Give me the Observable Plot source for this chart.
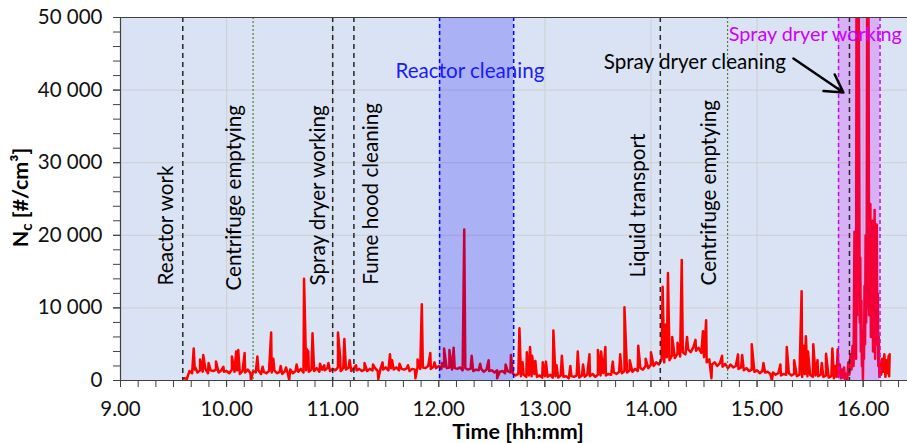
<!DOCTYPE html>
<html><head><meta charset="utf-8">
<script src="https://cdn.jsdelivr.net/npm/d3@7"></script>
<script src="https://cdn.jsdelivr.net/npm/@observablehq/plot@0.6"></script>
<style>body{margin:0;background:#fff}#chart{width:907px;height:443px}</style>
</head><body><div id="chart"></div>
<script>
// ---- data (time in decimal hours, Nc in #/cm3) ----
const sampleStartHour = 9.6;
const sampleStepHour = 0.025;
const baselineNc = [
  300,200,1300,1000,1500,1100,1400,1200,1600,1000,
  1400,1300,1500,1100,1400,1200,1300,1000,1500,1200,
  1400,900,1300,1100,1500,1000,1300,1100,1400,900,
  1200,1000,1300,1100,1400,1000,1200,900,1300,1100,
  1500,1000,1300,1200,1600,1100,1400,1200,1500,1300,
  1700,1200,1500,1400,1700,1300,1600,1400,1800,1300,
  1700,1500,1800,1300,1700,1400,1600,1300,1500,1300,
  1600,1400,1700,1300,1600,1500,1800,1400,1700,1500,
  1800,1400,1600,1500,1700,1300,1600,1500,1900,1600,
  1800,1700,2000,1600,1900,1700,2000,1600,1900,1700,
  1800,1500,1700,1600,1800,1400,1700,1500,1600,1300,
  1500,1400,1600,1200,1500,1300,1400,1100,1400,1200,
  1300,1000,1300,1100,900,700,900,600,800,500,
  700,600,900,500,700,400,600,500,800,400,
  600,400,700,500,600,300,600,500,700,400,
  700,500,800,600,900,500,800,700,1000,700,
  900,800,1100,900,1200,1000,1300,1100,1400,1200,
  1600,1300,1700,1500,2000,1700,2200,2000,2500,2200,
  2900,2500,3200,2800,3500,3100,3700,3300,3900,3600,
  4300,3900,4600,4100,4500,3800,3200,2500,2900,2200,
  2500,2000,2400,1900,2300,1700,2200,1800,2000,1600,
  1800,1400,1700,1300,1500,1200,1400,1000,1300,1100,
  1200,900,1100,800,1000,700,900,800,1000,700,
  900,600,800,500,900,600,800,500,700,600,
  800,500,700,400,600,300,500
];
const spikes = [
  [9.69,4400],[9.705,1800],[9.75,2900],[9.78,3500],[9.83,2400],[9.90,2600],[9.97,1900],
  [10.05,3300],[10.09,4000],[10.11,4200],[10.17,3800],[10.23,0],[10.29,3300],[10.34,1900],
  [10.42,6600],[10.44,3000],[10.51,2000],[10.56,1800],[10.59,100],[10.66,2200],[10.73,14000],
  [10.75,4400],[10.77,4000],[10.81,6500],[10.88,2300],[10.92,2100],[10.96,2400],
  [11.05,6600],[11.07,3300],[11.11,5700],[11.16,2800],[11.22,2100],[11.30,2400],[11.38,2200],
  [11.43,200],[11.47,2500],[11.54,3600],[11.56,2800],[11.63,2300],[11.71,2100],[11.78,300],
  [11.80,2900],[11.84,10500],[11.92,3800],[11.96,2500],
  [12.03,2400],[12.05,4400],[12.10,4200],[12.14,4500],[12.24,20800],[12.31,3400],[12.39,2300],
  [12.47,2800],[12.55,300],[12.63,2200],[12.68,3500],
  [12.76,7200],[12.79,2500],[12.83,3900],[12.86,4600],[12.88,3400],[12.91,2700],[12.98,2500],
  [13.01,2600],[13.08,6900],[13.11,2100],[13.16,3400],[13.24,2000],[13.31,4000],[13.36,2200],
  [13.42,3600],[13.50,4200],[13.53,4000],[13.57,4600],[13.64,2600],[13.71,3600],[13.75,10100],
  [13.80,2800],[13.88,4800],[13.95,3000],[14.00,3900],
  [14.11,12900],[14.13,5000],[14.14,7700],[14.16,14800],[14.20,6000],[14.25,5200],[14.29,16600],
  [14.34,6000],[14.42,5600],[14.49,6800],[14.52,8300],[14.57,300],[14.67,3400],[14.82,3600],
  [14.86,3500],[14.95,5000],[15.06,2400],[15.14,0],[15.22,2200],[15.28,4600],[15.35,2800],
  [15.42,12300],[15.44,4800],[15.46,6100],[15.48,4000],[15.53,5000],[15.57,2800],[15.61,2400],
  [15.65,3700],[15.71,4400],[15.74,2000]
];
const sprayBurst = [
  [15.76,4300],[15.77,600],[15.78,2200],[15.79,300],[15.80,1500],[15.81,400],[15.82,1800],
  [15.83,200],[15.84,900],[15.85,100],[15.86,2500],[15.87,800],[15.88,3600],[15.89,1500],
  [15.90,4800],[15.91,2000],[15.918,20500],[15.923,5000],[15.928,16800],[15.933,3000],
  [15.938,62000],[15.943,9000],[15.948,60000],[15.953,12000],[15.958,58000],[15.963,30000],
  [15.968,8000],[15.973,16900],[15.978,4000],[15.983,11000],[15.988,2000],[15.993,6000],
  [15.998,0],[16.003,6800],[16.008,3000],[16.013,13000],[16.018,5000],[16.023,20000],
  [16.028,8000],[16.033,13000],[16.038,62000],[16.043,10000],[16.050,58000],[16.056,9000],
  [16.062,16000],[16.068,24300],[16.073,6000],[16.078,18000],[16.083,9000],[16.088,22000],
  [16.093,4000],[16.098,20000],[16.103,7000],[16.108,23500],[16.113,3000],[16.118,15000],
  [16.123,6000],[16.128,21500],[16.133,5000],[16.138,12000],[16.143,2000],[16.148,6000],
  [16.153,500],[16.16,2500],[16.17,800],[16.18,3000],[16.19,1200],[16.20,3600],[16.21,500],
  [16.22,2800],[16.23,1000],[16.24,3400],[16.245,600],[16.25,3600]
];
const xTickHours = [9,10,11,12,13,14,15,16];
const yTickValues = [0,10000,20000,30000,40000,50000];
const eventLabels = ["Reactor work","Centrifuge emptying","Spray dryer working","Fume hood cleaning","Liquid transport","Centrifuge emptying"];
const eventTimes = [9.587,10.25,11.0,11.2,14.088,14.722];
const eventKinds = ["black","green","black","black","black","green"];
const eventLabelTimes = [9.431,10.074,10.869,11.369,13.885,14.551];
const eventLabelNc = [13100,12400,13100,13200,14200,13100];
const reactorCleaning = [12.008,12.706];
const sprayDryerWorking = [15.768,16.159];
const sprayDryerCleaningTime = 15.871;

// ---- build tables ----
const series = [];
baselineNc.forEach((v,i) => series.push({t: sampleStartHour + i*sampleStepHour, v}));
spikes.forEach(([t,v]) => series.push({t, v}));
sprayBurst.forEach(([t,v]) => series.push({t, v}));
series.sort((a,b) => a.t - b.t);

const events = eventLabels.map((label,i) => ({label, time: eventTimes[i], kind: eventKinds[i], lt: eventLabelTimes[i], lv: eventLabelNc[i]}));
const periods = [
  {start: reactorCleaning[0], end: reactorCleaning[1], color: "#0000ff"},
  {start: sprayDryerWorking[0], end: sprayDryerWorking[1], color: "#cc00ff"}
];
const xMinor = d3.range(0, 45).map(i => 9 + i/6);
const yMinor = d3.range(0, 51000, 2000);
const spaceFmt = d3.formatLocale({thousands: " ", grouping: [3], decimal: ".", currency: ["", ""]}).format(",");
const FONT = "Lato, 'Open Sans', sans-serif";
const axisCol = "#404040";
const LBL = 20.6;
const TCK = 20.5;

const plot = Plot.plot({
  width: 907, height: 443,
  marginLeft: 120, marginRight: 0, marginTop: 17, marginBottom: 63,
  x: {domain: [9, 16.418]},
  y: {domain: [0, 50000]},
  style: {fontFamily: FONT, fontSize: "20px", color: "#111", background: "white", overflow: "visible"},
  marks: [
    Plot.frame({fill: "#dae3f3", stroke: null}),
    Plot.gridY(yTickValues.slice(1, -1), {stroke: "#cfd2d6", strokeOpacity: 1, strokeWidth: 1.2}),
    Plot.gridX(xTickHours.slice(1), {stroke: "#cfd2d6", strokeOpacity: 1, strokeWidth: 1.2}),
    Plot.line(series, {x: "t", y: "v", stroke: "#ff0000", strokeWidth: 2.5, strokeLinejoin: "round", clip: true}),
    Plot.rect(periods, {x1: "start", x2: "end", y1: 0, y2: 50000, fill: "color", fillOpacity: 0.22}),
    Plot.ruleX(events.filter(d => d.kind === "black"), {x: "time", stroke: "#262626", strokeWidth: 1.5, strokeDasharray: "5,4"}),
    Plot.ruleX(events.filter(d => d.kind === "green"), {x: "time", stroke: "#548235", strokeWidth: 1.2, strokeDasharray: "2,2"}),
    Plot.ruleX(reactorCleaning, {stroke: "#0000ff", strokeWidth: 1.5, strokeDasharray: "4,3"}),
    Plot.ruleX(sprayDryerWorking, {stroke: "#cc00ff", strokeWidth: 1.5, strokeDasharray: "4,3"}),
    Plot.ruleX([sprayDryerCleaningTime], {stroke: "#262626", strokeWidth: 1.5, strokeDasharray: "5,4"}),
    Plot.text(events, {x: "lt", y: "lv", text: "label", rotate: -90, textAnchor: "start", fill: "#000", fontSize: LBL}),
    Plot.text(["Reactor cleaning"], {x: 12.294, y: 42600, text: d => d, fill: "#1a1aff", fontSize: LBL}),
    Plot.text(["Spray dryer cleaning"], {x: 13.555, y: 43760, text: d => d, fill: "#000", textAnchor: "start", fontSize: LBL}),
    Plot.text(["Spray dryer working"], {x: 14.733, y: 47700, text: d => d, fill: "#cc00ff", textAnchor: "start", fontSize: 19.8}),
    Plot.arrow([{x1: 15.343, y1: 44350, x2: 15.814, y2: 39670}], {x1: "x1", y1: "y1", x2: "x2", y2: "y2", stroke: "#000", strokeWidth: 2.5, headLength: 12}),
    Plot.ruleY([0], {stroke: axisCol, strokeWidth: 1.2}),
    Plot.ruleY([50000], {stroke: axisCol, strokeWidth: 1.2}),
    Plot.ruleX([9], {stroke: axisCol, strokeWidth: 1.2}),
    Plot.axisY(yTickValues, {tickSize: 7, tickPadding: 11, tickFormat: spaceFmt, label: null, stroke: axisCol, fill: "#111", fontSize: TCK}),
    Plot.axisY(yMinor, {tickSize: 7, tickFormat: () => "", label: null, stroke: axisCol}),
    Plot.axisX(xTickHours, {tickSize: 7, tickPadding: 14, tickFormat: d => d.toFixed(2), label: null, stroke: axisCol, fill: "#111", fontSize: TCK}),
    Plot.axisX(xMinor, {tickSize: 7, tickFormat: () => "", label: null, stroke: axisCol})
  ]
});

const svg = d3.select(plot);
const yt = svg.append("text")
  .attr("transform", "translate(28,197.5) rotate(-90)")
  .attr("text-anchor", "middle")
  .attr("font-weight", "bold").attr("font-size", 21.5).attr("fill", "#000")
  .attr("font-family", FONT);
yt.append("tspan").text("N");
yt.append("tspan").text("c").attr("font-size", 15).attr("dy", 4);
yt.append("tspan").text(" [#/cm³]").attr("dy", -4);
svg.append("text")
  .attr("x", 518).attr("y", 439)
  .attr("text-anchor", "middle")
  .attr("font-weight", "bold").attr("font-size", 21.5).attr("fill", "#000")
  .attr("font-family", FONT)
  .text("Time [hh:mm]");

document.getElementById("chart").appendChild(plot);
</script>
</body></html>
